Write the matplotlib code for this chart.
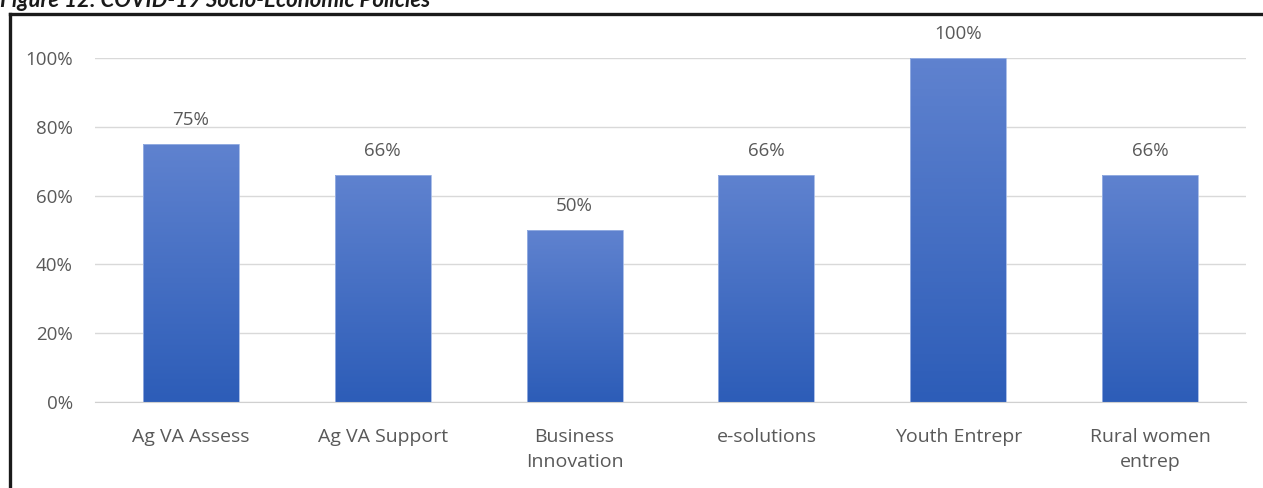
import matplotlib.pyplot as plt
import matplotlib.patches as patches
from matplotlib.colors import LinearSegmentedColormap
import numpy as np

categories = ['Ag VA Assess', 'Ag VA Support', 'Business\nInnovation',
              'e-solutions', 'Youth Entrepr', 'Rural women\nentrep']
shares = [75, 66, 50, 66, 100, 66]
y_ticks = [0, 20, 40, 60, 80, 100]

plt.rcParams['font.family'] = ['Open Sans', 'DejaVu Sans']

fig = plt.figure(figsize=(12.63, 4.88), dpi=100)
ax = fig.add_axes([95 / 1263, 1 - 402 / 488, 1151 / 1263, 344 / 488])

# vertical gradient for the bars, light on top, darker at the base
grad = LinearSegmentedColormap.from_list('bars', ['#2D5DB8', '#5F82CF'])
width = 0.5
x = np.arange(len(categories))
for xi, v in zip(x, shares):
    img = ax.imshow(np.linspace(0, 1, 100).reshape(-1, 1), cmap=grad, origin='lower',
                    extent=[xi - width / 2, xi + width / 2, 0, v], aspect='auto', zorder=2)
    rect = patches.Rectangle((xi - width / 2, 0), width, v, facecolor='none',
                             edgecolor='#9DB4E4', linewidth=0.6, zorder=3)
    ax.add_patch(rect)
    img.set_clip_path(rect)
    ax.annotate(f'{v}%', (xi, v), xytext=(0, 11), textcoords='offset points',
                ha='center', va='bottom', fontsize=13.5, color='#595959')

ax.set_xlim(-0.5, len(categories) - 0.5)
ax.set_ylim(0, 100)
ax.set_yticks(y_ticks)
ax.set_yticklabels([f'{t}%' for t in y_ticks])
ax.set_xticks(x)
ax.set_xticklabels(categories, linespacing=1.45, fontsize=14)
ax.tick_params(axis='both', length=0, labelcolor='#595959')
ax.tick_params(axis='y', pad=16, labelsize=13.5)
ax.tick_params(axis='x', pad=19)
ax.grid(axis='y', color='#D9D9D9', linewidth=1, zorder=0)
ax.set_axisbelow(True)
for s in ['top', 'right', 'left']:
    ax.spines[s].set_visible(False)
ax.spines['bottom'].set_color('#D0D0D0')

# frame around the chart, open at the right and bottom edges
fig.add_artist(plt.Line2D([10 / 1263, 10 / 1263], [0, 1 - 14 / 488],
                          transform=fig.transFigure, color='#1A1A1A', linewidth=2.4))
fig.add_artist(plt.Line2D([10 / 1263, 1], [1 - 14 / 488, 1 - 14 / 488],
                          transform=fig.transFigure, color='#1A1A1A', linewidth=2.4))

fig.text(0, 1 - 7 / 488, 'Figure 12: COVID-19 Socio-Economic Policies', ha='left',
         va='baseline', fontsize=16, fontweight='bold', fontstyle='italic',
         color='#1A1A1A', family=['Lato', 'DejaVu Sans'])

fig.savefig('out.png', dpi=100)
